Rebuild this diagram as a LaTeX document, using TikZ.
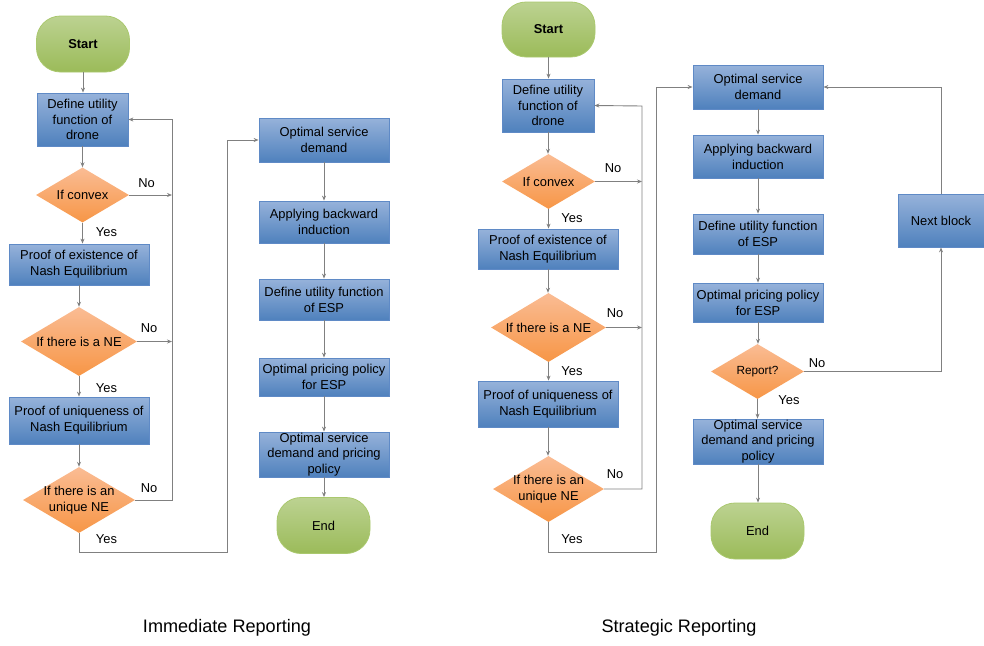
\documentclass[tikz,border=0pt]{standalone}
\usepackage{fontspec}
\setmainfont{Liberation Sans}
\usetikzlibrary{shapes.geometric,arrows.meta}
\definecolor{bluetop}{RGB}{150,178,218}
\definecolor{bluebot}{RGB}{79,129,189}
\definecolor{blueline}{RGB}{95,138,198}
\definecolor{oratop}{RGB}{250,188,148}
\definecolor{orabot}{RGB}{247,150,70}
\definecolor{gretop}{RGB}{188,210,145}
\definecolor{grebot}{RGB}{155,187,89}
\definecolor{greline}{RGB}{170,200,110}
\definecolor{conn}{RGB}{128,128,128}
\tikzset{
  txt/.style={font=\fontsize{12.9}{15.8}\selectfont, align=center, text=black},
  procbox/.style={txt, rectangle, draw=blueline, line width=0.8pt, top color=bluetop, bottom color=bluebot, inner sep=0pt},
  decbox/.style={diamond, draw=none, top color=oratop, bottom color=orabot, inner sep=0pt},
  termbox/.style={txt, rectangle, rounded corners=24pt, draw=greline, line width=0.8pt, top color=gretop, bottom color=grebot, inner sep=0pt, minimum width=93pt, minimum height=56pt},
  arr/.style={draw=conn, line width=0.9pt, -{Stealth[length=5pt,width=4pt]}},
  lab/.style={txt},
  captxt/.style={font=\fontsize{18.1}{20}\selectfont, text=black}
}
\begin{document}
\begin{tikzpicture}[x=1pt,y=-1pt]
\useasboundingbox (0,0) rectangle (984,645);

% ---------------- Immediate Reporting ----------------
\node[termbox] (s1) at (83,44) {\textbf{Start}};
\node[procbox, minimum width=91pt, minimum height=53pt] (d1) at (82.5,119.5) {Define utility\\function of\\drone};
\node[decbox, minimum width=93pt, minimum height=55pt, label={[txt]center:If convex}] (c1) at (82.5,195) {};
\node[procbox, minimum width=140pt, minimum height=41pt] (p1) at (79,264.5) {Proof of existence of\\Nash Equilibrium};
\node[decbox, minimum width=116pt, minimum height=69pt, label={[txt]center:If there is a NE}] (n1) at (79,341.5) {};
\node[procbox, minimum width=140pt, minimum height=47pt] (q1) at (79,420.5) {Proof of uniqueness of\\Nash Equilibrium};
\node[decbox, minimum width=112pt, minimum height=66pt, label={[txt]center:{If there is an\\unique NE}}] (u1) at (79,500) {};

\node[procbox, minimum width=130pt, minimum height=44pt] (o1) at (324,140) {Optimal service\\demand};
\node[procbox, minimum width=130pt, minimum height=42pt] (a1) at (324,222) {Applying backward\\induction};
\node[procbox, minimum width=130pt, minimum height=41pt] (e1) at (324,299.5) {Define utility function\\of ESP};
\node[procbox, minimum width=130pt, minimum height=38pt] (r1) at (324,377) {Optimal pricing policy\\for ESP};
\node[procbox, minimum width=130pt, minimum height=45pt] (f1) at (324,454.5) {Optimal service\\demand and pricing\\policy};
\node[termbox] (t1) at (323.5,525.5) {End};

\coordinate (fb1) at (172,119.5);
\coordinate (yb1) at (227,552);

\draw[arr] (s1.south) -- (s1.south |- d1.north);
\draw[arr] (d1.south) -- (d1.south |- c1.north);
\draw[arr] (c1.south) -- (c1.south |- p1.north);
\draw[arr] (p1.south) -- (p1.south |- n1.north);
\draw[arr] (n1.south) -- (n1.south |- q1.north);
\draw[arr] (q1.south) -- (q1.south |- u1.north);
\draw[arr] (c1.east) -- (c1.east -| fb1);
\draw[arr] (n1.east) -- (n1.east -| fb1);
\draw[arr] (u1.east) -| (fb1) -- (d1.east);
\draw[arr] (u1.south) |- (yb1) |- (o1.west);
\draw[arr] (o1) -- (a1);
\draw[arr] (a1) -- (e1);
\draw[arr] (e1) -- (r1);
\draw[arr] (r1) -- (f1);
\draw[arr] (f1.south) -- (f1.south |- t1.north);

\node[lab] (l1) at (146.5,183) {No};
\node[lab] (l2) at (106.5,232) {Yes};
\node[lab] (l3) at (149,328) {No};
\node[lab] (l4) at (106.5,388) {Yes};
\node[lab] (l5) at (149,488) {No};
\node[lab] (l6) at (106.5,539) {Yes};

% ---------------- Strategic Reporting ----------------
\node[termbox, minimum height=55pt] (s2) at (548.5,29.5) {\textbf{Start}};
\node[procbox, minimum width=92pt, minimum height=53pt] (d2) at (548,105.5) {Define utility\\function of\\drone};
\node[decbox, minimum width=93pt, minimum height=55pt, label={[txt]center:If convex}] (c2) at (548.5,181.5) {};
\node[procbox, minimum width=140pt, minimum height=40pt] (p2) at (548,249) {Proof of existence of\\Nash Equilibrium};
\node[decbox, minimum width=115pt, minimum height=69pt, label={[txt]center:If there is a NE}] (n2) at (548.5,327.5) {};
\node[procbox, minimum width=140pt, minimum height=46pt] (q2) at (548,404) {Proof of uniqueness of\\Nash Equilibrium};
\node[decbox, minimum width=111pt, minimum height=66pt, label={[txt]center:{If there is an\\unique NE}}] (u2) at (548.5,489) {};

\node[procbox, minimum width=130pt, minimum height=44pt] (o2) at (758,87) {Optimal service\\demand};
\node[procbox, minimum width=130pt, minimum height=43pt] (a2) at (758,156.5) {Applying backward\\induction};
\node[procbox, minimum width=130pt, minimum height=40pt] (e2) at (758,234) {Define utility function\\of ESP};
\node[procbox, minimum width=130pt, minimum height=39pt] (r2) at (758,302.5) {Optimal pricing policy\\for ESP};
\node[decbox, minimum width=93pt, minimum height=55pt, label={[txt,font=\fontsize{11.8}{14}\selectfont]center:Report?}] (k2) at (757.5,371.5) {};
\node[procbox, minimum width=130pt, minimum height=45pt] (f2) at (758,441.5) {Optimal service\\demand and pricing\\policy};
\node[termbox] (t2) at (757.5,531) {End};
\node[procbox, minimum width=86pt, minimum height=53pt] (nb) at (941,220.5) {Next block};

\coordinate (fb2) at (642,106);
\coordinate (yb2) at (656,552);

\draw[arr] (s2.south) -- (s2.south |- d2.north);
\draw[arr] (d2.south) -- (d2.south |- c2.north);
\draw[arr] (c2.south) -- (c2.south |- p2.north);
\draw[arr] (p2.south) -- (p2.south |- n2.north);
\draw[arr] (n2.south) -- (n2.south |- q2.north);
\draw[arr] (q2.south) -- (q2.south |- u2.north);
\draw[arr] (c2.east) -- (c2.east -| fb2);
\draw[arr] (n2.east) -- (n2.east -| fb2);
\draw[arr] (u2.east) -| (fb2) -- (d2.east);
\draw[arr] (u2.south) |- (yb2) |- (o2.west);
\draw[arr] (o2.south) -- (o2.south |- a2.north);
\draw[arr] (a2.south) -- (a2.south |- e2.north);
\draw[arr] (e2.south) -- (e2.south |- r2.north);
\draw[arr] (r2.south) -- (r2.south |- k2.north);
\draw[arr] (k2.south) -- (k2.south |- f2.north);
\draw[arr] (f2.south) -- (f2.south |- t2.north);
\draw[arr] (k2.east) -| (nb.south);
\draw[arr] (nb.north) |- (o2.east);

\node[lab] (m1) at (613,168.5) {No};
\node[lab] (m2) at (572,218.5) {Yes};
\node[lab] (m3) at (615,313) {No};
\node[lab] (m4) at (572,371) {Yes};
\node[lab] (m5) at (615,474) {No};
\node[lab] (m6) at (572,539) {Yes};
\node[lab] (m7) at (817,363.5) {No};
\node[lab] (m8) at (789,400.5) {Yes};

% ---------------- captions ----------------
\node[captxt] (cap1) at (227,628) {Immediate Reporting};
\node[captxt] (cap2) at (679,628) {Strategic Reporting};
\end{tikzpicture}
\end{document}
